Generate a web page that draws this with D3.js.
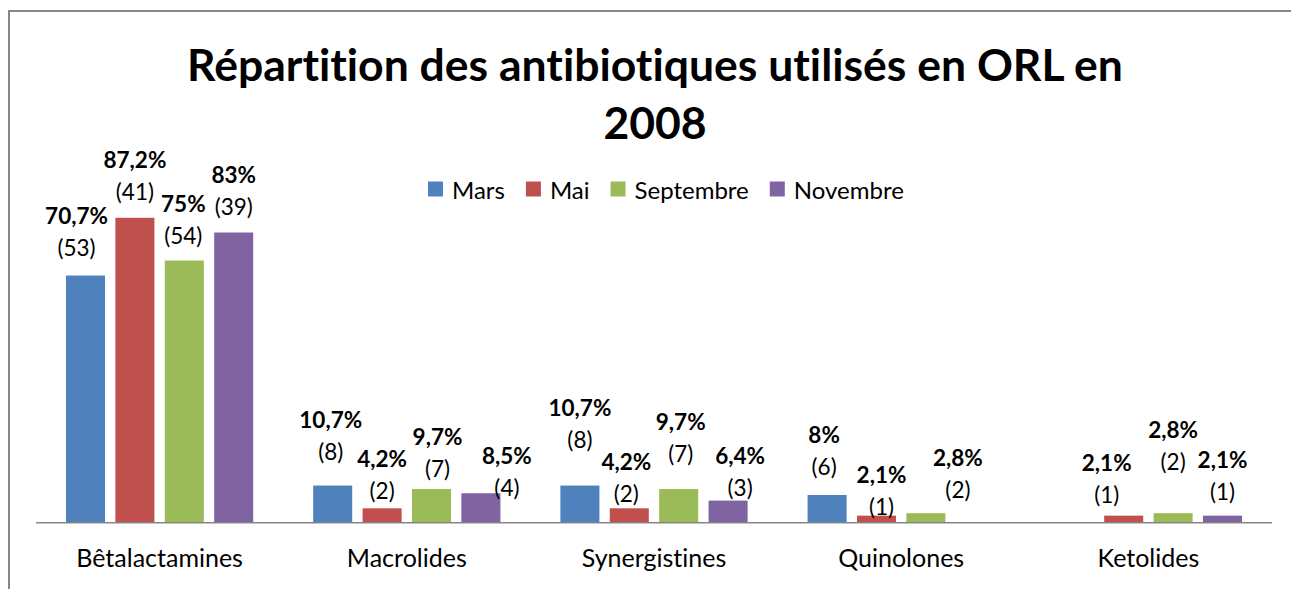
<!DOCTYPE html>
<html>
<head>
<meta charset="utf-8">
<script src="https://cdn.jsdelivr.net/npm/d3@7"></script>
<style>
  body { margin: 0; background: #fff; }
  text { font-family: Lato, "Open Sans", sans-serif; fill: #000; font-variant-ligatures: none; }
</style>
</head>
<body>
<div id="chart"></div>
<script>
// data
const categories = ['Bêtalactamines', 'Macrolides', 'Synergistines', 'Quinolones', 'Ketolides'];
const seriesNames = ['Mars', 'Mai', 'Septembre', 'Novembre'];
const colors = ['#4F81BD', '#C0504D', '#9BBB59', '#8064A2'];

const pctMars      = [70.7, 10.7, 10.7, 8,   null];
const pctMai       = [87.2, 4.2,  4.2,  2.1, 2.1];
const pctSeptembre = [75,   9.7,  9.7,  2.8, 2.8];
const pctNovembre  = [83,   8.5,  6.4,  null, 2.1];

const nMars      = [53, 8, 8, 6, null];
const nMai       = [41, 2, 2, 1, 1];
const nSeptembre = [54, 7, 7, 2, 2];
const nNovembre  = [39, 4, 3, null, 1];

// hand-placed label nudges [dx, dy] from the bar top (as in the original workbook)
const nudgeMars      = [[-9, -28], [-2, -34], [0, -46], [-3, -29], null];
const nudgeMai       = [[0, -26], [0, -18], [-3, -15], [5, -9], [-17, -21]];
const nudgeSeptembre = [[-1, -25], [6, -21], [2, -36], [32, -24], [0, -52]];
const nudgeNovembre  = [[0, -26], [26, -6], [12, -13], null, [0, -24]];

const pcts = [pctMars, pctMai, pctSeptembre, pctNovembre];
const counts = [nMars, nMai, nSeptembre, nNovembre];
const nudges = [nudgeMars, nudgeMai, nudgeSeptembre, nudgeNovembre];

const width = 1291, height = 589;
const svg = d3.select('#chart').append('svg')
  .attr('width', width)
  .attr('height', height);

// chart area border
svg.append('rect')
  .attr('x', 9).attr('y', 11)
  .attr('width', 1400).attr('height', 700)
  .attr('fill', 'none')
  .attr('stroke', '#868686')
  .attr('stroke-width', 2);

const x0 = d3.scaleBand().domain(categories).range([36, 1272]);
const x1 = d3.scaleBand().domain(seriesNames).range([0, x0.bandwidth()])
  .paddingInner(0.21).paddingOuter(0.607);
const y = d3.scaleLinear().domain([0, 100]).range([523, 173]);

const fmt = v => String(v).replace('.', ',') + '%';

const points = [];
seriesNames.forEach((s, si) => {
  categories.forEach((c, ci) => {
    const v = pcts[si][ci];
    if (v == null) return;
    points.push({ s, si, c, v, n: counts[si][ci], nudge: nudges[si][ci] });
  });
});

svg.append('g').selectAll('rect')
  .data(points)
  .join('rect')
    .attr('x', d => x0(d.c) + x1(d.s))
    .attr('y', d => y(d.v))
    .attr('width', x1.bandwidth())
    .attr('height', d => y(0) - y(d.v))
    .attr('fill', d => colors[d.si]);

// axis line
svg.append('line')
  .attr('x1', 36).attr('x2', 1272)
  .attr('y1', 522.75).attr('y2', 522.75)
  .attr('stroke', '#868686')
  .attr('stroke-width', 1.5);

// category labels
svg.append('g').selectAll('text')
  .data(categories)
  .join('text')
    .attr('x', d => x0(d) + x0.bandwidth() / 2)
    .attr('y', 557)
    .attr('text-anchor', 'middle')
    .attr('dominant-baseline', 'central')
    .attr('font-size', 25)
    .text(d => d);

// data labels: bold percentage over the (count)
const lab = svg.append('g').selectAll('g')
  .data(points.filter(d => d.nudge))
  .join('g')
    .attr('transform', d => `translate(${x0(d.c) + x1(d.s) + x1.bandwidth() / 2 + d.nudge[0]},${y(d.v) + d.nudge[1]})`);
lab.append('text')
  .attr('y', -32)
  .attr('text-anchor', 'middle')
  .attr('dominant-baseline', 'central')
  .attr('font-size', 22.5)
  .attr('font-weight', 'bold')
  .text(d => fmt(d.v));
lab.append('text')
  .attr('text-anchor', 'middle')
  .attr('dominant-baseline', 'central')
  .attr('font-size', 22.5)
  .text(d => `(${d.n})`);

// title
const title = svg.append('text')
  .attr('x', 655)
  .attr('text-anchor', 'middle')
  .attr('font-size', 44.5)
  .attr('font-weight', 'bold');
title.append('tspan').attr('x', 655).attr('y', 81).text('Répartition des antibiotiques utilisés en ORL en');
title.append('tspan').attr('x', 655).attr('y', 139).text('2008');

// legend
const legend = svg.append('g').attr('transform', 'translate(428,189)');
let lx = 0;
seriesNames.forEach((s, i) => {
  const g = legend.append('g').attr('transform', `translate(${lx},0)`);
  g.append('rect')
    .attr('x', 0).attr('y', -7.5)
    .attr('width', 15).attr('height', 15)
    .attr('fill', colors[i]);
  const t = g.append('text')
    .attr('x', 24)
    .attr('dominant-baseline', 'central')
    .attr('font-size', 24)
    .text(s);
  lx += 24 + t.node().getComputedTextLength() + 21;
});
</script>
</body>
</html>
